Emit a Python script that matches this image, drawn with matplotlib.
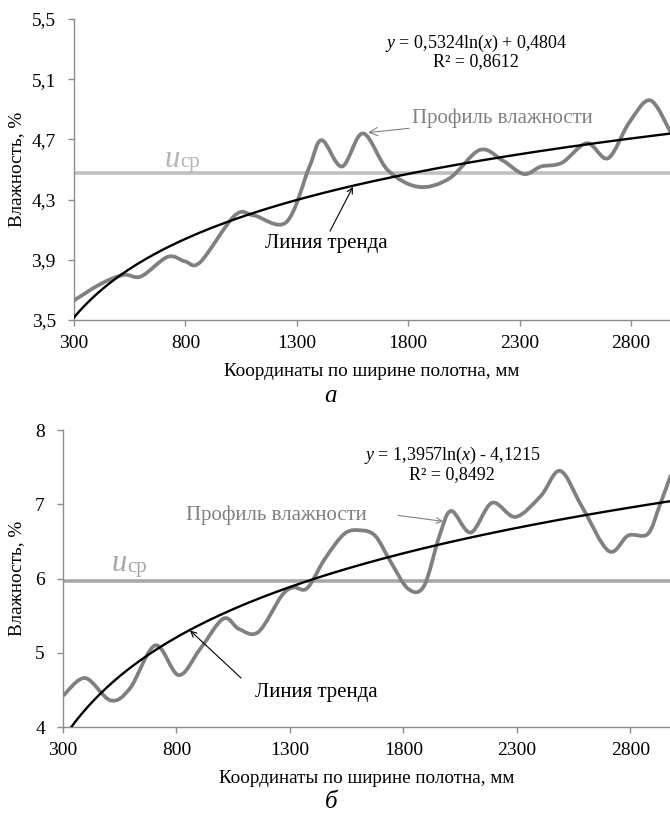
import numpy as np
import matplotlib
matplotlib.use("Agg")
import matplotlib.pyplot as plt
from matplotlib.path import Path
from matplotlib.patches import PathPatch

plt.rcParams["font.family"] = ["Liberation Serif", "DejaVu Serif"]
plt.rcParams["mathtext.fontset"] = "custom"
plt.rcParams["mathtext.rm"] = "Liberation Serif"
plt.rcParams["mathtext.it"] = "Liberation Serif:italic"

# --- data ---
x_ticks = [300, 800, 1300, 1800, 2300, 2800]

# chart a
profile_a_x = [300, 420, 523, 601, 721, 798, 867, 1022, 1107, 1253, 1357, 1412, 1503,
               1597, 1709, 1846, 1984, 2121, 2224, 2319, 2396, 2490, 2602, 2697, 2791,
               2886, 2977]
profile_a_y = [3.63, 3.74, 3.80, 3.79, 3.92, 3.89, 3.885, 4.195, 4.195, 4.15, 4.52, 4.695,
               4.52, 4.74, 4.495, 4.385, 4.44, 4.63, 4.56, 4.47, 4.52, 4.545, 4.675, 4.575,
               4.81, 4.96, 4.75]
mean_a = 4.48
trend_a = (0.5324, 0.4804)
y_ticks_a = [3.5, 3.9, 4.3, 4.7, 5.1, 5.5]
y_labels_a = ["3,5", "3,9", "4,3", "4,7", "5,1", "5,5"]

# chart b
profile_b_x = [303, 398, 509, 595, 707, 810, 904, 1007, 1076, 1161, 1264, 1316, 1376, 1453,
               1539, 1608, 1676, 1745, 1822, 1891, 1959, 2011, 2097, 2191, 2294, 2405, 2491,
               2585, 2705, 2791, 2877, 2929, 2977]
profile_b_y = [4.43, 4.66, 4.36, 4.52, 5.10, 4.70, 5.05, 5.46, 5.32, 5.28, 5.77, 5.88, 5.87,
               6.26, 6.60, 6.65, 6.575, 6.22, 5.86, 5.90, 6.575, 6.91, 6.62, 7.02, 6.83, 7.11,
               7.45, 6.98, 6.37, 6.58, 6.60, 6.98, 7.38]
mean_b = 5.97
trend_b = (1.3957, -4.1215)
y_ticks_b = [4, 5, 6, 7, 8]
y_labels_b = ["4", "5", "6", "7", "8"]

GRAY = "#808080"
SPINE = "#8c8c8c"


def smooth_path(x, y):
    # Excel-like smoothed line: Catmull-Rom segments as cubic Beziers
    p = np.column_stack([x, y]).astype(float)
    verts = [p[0]]
    codes = [Path.MOVETO]
    n = len(p)
    for i in range(n - 1):
        p0 = p[i - 1] if i > 0 else p[i]
        p3 = p[i + 2] if i + 2 < n else p[i + 1]
        c1 = p[i] + (p[i + 1] - p0) / 6.0
        c2 = p[i + 1] - (p3 - p[i]) / 6.0
        verts += [c1, c2, p[i + 1]]
        codes += [Path.CURVE4] * 3
    return Path(verts, codes)


def draw(ax, px, py, mean, mean_color, trend, yticks, ylabels, ylabel_x):
    ax.add_patch(PathPatch(smooth_path(px, py), fill=False, edgecolor=GRAY, lw=2.7,
                           capstyle="round", joinstyle="round", zorder=3))
    ax.axhline(mean, color=mean_color, lw=2.6, zorder=2)
    xs = np.linspace(280, 3000, 300)
    ax.plot(xs, trend[0] * np.log(xs) + trend[1], color="black", lw=1.7, zorder=4)
    ax.set_xlim(300, 2975)
    ax.set_ylim(yticks[0], yticks[-1])
    ax.set_xticks(x_ticks)
    ax.set_xticklabels([str(t) for t in x_ticks])
    ax.set_yticks(yticks)
    ax.set_yticklabels(ylabels)
    for s in ("top", "right"):
        ax.spines[s].set_visible(False)
    for s in ("left", "bottom"):
        ax.spines[s].set_color(SPINE)
        ax.spines[s].set_linewidth(1.0)
    ax.tick_params(direction="out", length=4, width=1, color=SPINE, labelsize=14)
    ax.tick_params(axis="x", pad=7)
    ax.tick_params(axis="y", pad=9)
    ax.set_xlabel("Координаты по ширине полотна, мм", fontsize=13.8, labelpad=8)
    ax.set_ylabel("Влажность, %", fontsize=13.8)
    ax.yaxis.set_label_coords(ylabel_x, 0.5)


def u_cp(ax, x, y, color):
    t = ax.text(x, y, "и", fontsize=22, style="italic", color=color, va="baseline")
    ax.annotate("ср", xy=(1.0, 0.0), xycoords=t, fontsize=15, color=color,
                va="bottom", ha="left", xytext=(1, 1), textcoords="offset points")


fig = plt.figure(figsize=(6.7, 8.16), dpi=100)
ax1 = fig.add_axes([0.1104, 0.6078, 0.8896, 0.3689])
ax2 = fig.add_axes([0.094, 0.109, 0.906, 0.364])

draw(ax1, profile_a_x, profile_a_y, mean_a, "#c0c0c0", trend_a, y_ticks_a, y_labels_a, -0.082)
draw(ax2, profile_b_x, profile_b_y, mean_b, "#a6a6a6", trend_b, y_ticks_b, y_labels_b, -0.063)

# chart a annotations
ax1.text(2104, 5.34, r"$y$ = 0,5324ln($x$) + 0,4804", fontsize=13, ha="center", va="center")
ax1.text(2104, 5.22, "R² = 0,8612", fontsize=13, ha="center", va="center")
ax1.annotate("Профиль влажности", xy=(1620, 4.745), xytext=(1817, 4.84), fontsize=15,
             color=GRAY, va="center", ha="left",
             arrowprops=dict(arrowstyle="->", color=GRAY, lw=0.8, shrinkA=0, shrinkB=0))
ax1.text(1157, 4.01, "Линия тренда", fontsize=15, color="black", va="center", ha="left")
ax1.annotate("", xy=(1552, 4.385), xytext=(1449, 4.09),
             arrowprops=dict(arrowstyle="->", color="black", lw=0.8, shrinkA=0, shrinkB=0))
u_cp(ax1, 704, 4.52, "#b4b4b4")

# chart b annotations
ax2.text(2015, 7.66, r"$y$ = 1,3957ln($x$) - 4,1215", fontsize=13, ha="center", va="center")
ax2.text(2015, 7.405, "R² = 0,8492", fontsize=13, ha="center", va="center")
ax2.text(842, 6.85, "Профиль влажности", fontsize=15, color=GRAY, va="center", ha="left")
ax2.annotate("", xy=(1975, 6.77), xytext=(1777, 6.85),
             arrowprops=dict(arrowstyle="->", color=GRAY, lw=0.8, shrinkA=0, shrinkB=0))
ax2.text(1147, 4.46, "Линия тренда", fontsize=15, color="black", va="center", ha="left")
ax2.annotate("", xy=(860, 5.30), xytext=(1085, 4.66),
             arrowprops=dict(arrowstyle="->", color="black", lw=0.8, shrinkA=0, shrinkB=0))
u_cp(ax2, 512, 6.10, "#a6a6a6")

fig.text(0.494, 0.515, "а", fontsize=18, style="italic", ha="center", va="center")
fig.text(0.494, 0.004, "б", fontsize=18, style="italic", ha="center", va="bottom")

fig.savefig("out.png", dpi=100)
